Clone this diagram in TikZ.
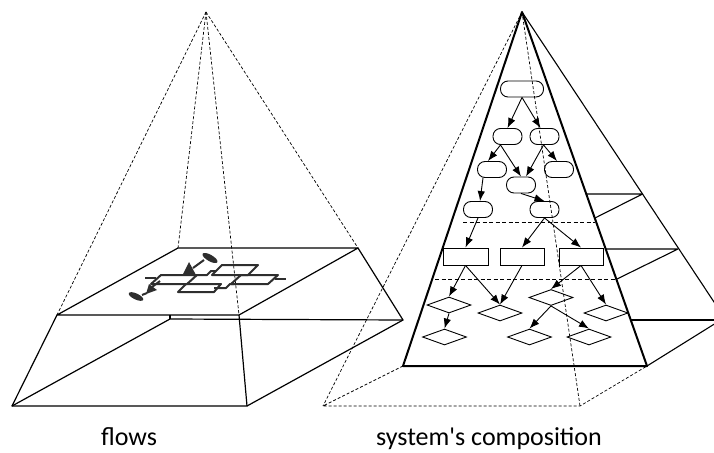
\documentclass[tikz,border=0pt]{standalone}
\usepackage{fontspec}
\setmainfont{Carlito}[Ligatures=TeXOff]
\usetikzlibrary{arrows.meta,shapes.geometric}

\begin{document}
\begin{tikzpicture}[x=1pt,y=-1pt,
  frame/.style={line width=1.2pt, line join=round},
  side/.style={line width=1.1pt, line join=round},
  hidden/.style={line width=0.7pt, dash pattern=on 3pt off 2pt},
  face/.style={line width=2pt, line join=round},
  pill/.style={draw, line width=0.9pt, rounded corners=7.5pt, minimum width=29pt, minimum height=16pt, inner sep=0pt},
  stepbox/.style={draw, line width=0.9pt, minimum width=44pt, minimum height=17pt, inner sep=0pt},
  dia/.style={draw, diamond, line width=0.9pt, minimum width=44pt, minimum height=16pt, inner sep=0pt},
  flow/.style={-{Latex[length=10pt,width=7.5pt]}, line width=0.9pt},
  sketch/.style={draw=black!82, line width=2pt, line join=round},
  caption/.style={font=\fontsize{26}{30}\selectfont, anchor=base, inner sep=0pt}
]
\useasboundingbox (0,0) rectangle (714,452);

% ---------- left pyramid: frustum with the flows layer ----------
\coordinate (LA)  at (206,12);
\coordinate (LT1) at (178,248);
\coordinate (LT2) at (358,248);
\coordinate (LT3) at (239,315);
\coordinate (LT4) at (57,315);
\coordinate (LB1) at (12,406);
\coordinate (LB2) at (247,406);
\coordinate (LB3) at (403,320);
\coordinate (LB4) at (170,319);
\coordinate (LB5) at (170,315);

\foreach \c in {LT1,LT2,LT3,LT4} \draw[hidden] (LA) -- (\c);

\draw[frame] (LT4) -- (LT3) -- (LT2) -- (LT1) -- cycle;
\draw[frame] (LT4) -- (LB1) -- (LB2) -- (LT3);
\draw[frame] (LB2) -- (LB3) -- (LT2);
\draw[frame] (LB1) -- (LB4) -- (LB3);
\draw[frame] (LB4) -- (LB5);

% flow sketch lying on the top face
\draw[sketch] (212,275) -- (248,275) -- (258,265) -- (222,265) -- cycle;
\draw[sketch] (231,284) -- (268,284) -- (278,275) -- (241,275) -- cycle;
\draw[sketch] (178,292) -- (214,292) -- (221,284) -- (186,284) -- cycle;
\draw[sketch] (151,284) -- (187,284) -- (197,275) -- (161,275) -- cycle;
\draw[sketch] (197,275) -- (207,275) -- (211,271) -- (216,271);
\draw[sketch] (214,288) -- (226,288) -- (230,284) -- (234,284);
\draw[sketch] (145,278) -- (156,278);
\draw[sketch] (275,279) -- (286,279);
\draw[sketch] (193,268) -- (204,260);
\fill[black!82, rotate around={-30:(210,258)}] (210,258) ellipse [x radius=8.5pt, y radius=3.2pt];
\fill[black!82] (189,262) -- (196,275) -- (183,274) -- cycle;
\draw[sketch] (160,281) -- (152,287);
\fill[black!82] (146,294) -- (149,284) -- (157,290) -- cycle;
\draw[sketch] (147,293) -- (142,295);
\fill[black!82, rotate around={-25:(136,296.5)}] (136,296.5) ellipse [x radius=8pt, y radius=3pt];

% ---------- right pyramid: system's composition ----------
\coordinate (RA)  at (522,12);
\coordinate (RF1) at (403,366);
\coordinate (RF2) at (647,366);
\coordinate (RK1) at (323,406);
\coordinate (RK2) at (580,406);
\coordinate (RO)  at (716,305);

\draw[hidden] (RA) -- (RK1);
\draw[hidden] (RA) -- (RK2);
\draw[hidden] (RF1) -- (RK1) -- (RK2) -- (RF2);

% side face with its layer edges
\draw[side] (RA) -- (RO);
\draw[side] (586.5,194) -- (642.5,194) -- (595,218);
\draw[side] (606,249) -- (678,249) -- (617,279);
\draw[side] (631,320) -- (716,320);
\draw[side] (716,323) -- (RF2);

% layer boundaries on the front face
\draw[hidden, dash pattern=on 4pt off 2.5pt] (463,222) -- (595,222);
\draw[hidden, dash pattern=on 4pt off 2.5pt] (435,279) -- (616,279);

\draw[face] (RA) -- (RF1) -- (RF2) -- cycle;

% composition tree
\node[pill, minimum width=43pt] (R1) at (522,89) {};
\node[pill] (R2a) at (507.5,136.5) {};
\node[pill] (R2b) at (544.5,136.5) {};
\node[pill] (R3a) at (492,169.5) {};
\node[pill] (R3b) at (559,169.5) {};
\node[pill] (R4)  at (521,185) {};
\node[pill] (R5a) at (478,209.5) {};
\node[pill] (R5b) at (544.5,209.5) {};

\node[stepbox, minimum width=45pt] (B1) at (465.5,256.5) {};
\node[stepbox] (B2) at (522,256.5) {};
\node[stepbox] (B3) at (581,256.5) {};

\node[dia] (D1) at (449,305) {};
\node[dia] (D2) at (500,313) {};
\node[dia] (D3) at (551,297.5) {};
\node[dia] (D4) at (606,313) {};
\node[dia] (D5) at (444.5,337) {};
\node[dia] (D6) at (529.5,337) {};
\node[dia] (D7) at (589,337) {};

\draw[flow] (R1.south) -- (R2a.north);
\draw[flow] (R1.south) -- ([xshift=-4pt]R2b.north);
\draw[flow] ([xshift=-7pt]R2a.south) -- ([xshift=-4pt]R3a.north);
\draw[flow] ([xshift=-7pt]R2a.south) -- (R4.north);
\draw[flow] ([xshift=-1pt]R2b.south) -- ([xshift=5pt]R4.north);
\draw[flow] ([xshift=-1pt]R2b.south) -- ([xshift=-2pt]R3b.north);
\draw[flow] ([xshift=-9pt]R3a.south) -- ([xshift=2pt]R5a.north);
\draw[flow] (R4.south) -- (R5b.north);
\draw[flow] (R5a.south) -- (B1.north);
\draw[flow] (R5b.south) -- (B2.north);
\draw[flow] (R5b.south) -- (B3.north);
\draw[flow] (B1.south) -- (D1.north);
\draw[flow] (B1.south) -- (D2.north);
\draw[flow] (B2.south) -- (D2.north);
\draw[flow] (B3.south) -- (D3.north);
\draw[flow] (B3.south) -- (D4.north);
\draw[flow] (D1.south) -- (D5.north);
\draw[flow] (D3.south) -- (D6.north);
\draw[flow] (D3.south) -- (D7.north);

% ---------- captions ----------
\node[caption] (cap1) at (129,445) {flows};
\node[caption] (cap2) at (489,445) {system's composition};
\end{tikzpicture}
\end{document}
